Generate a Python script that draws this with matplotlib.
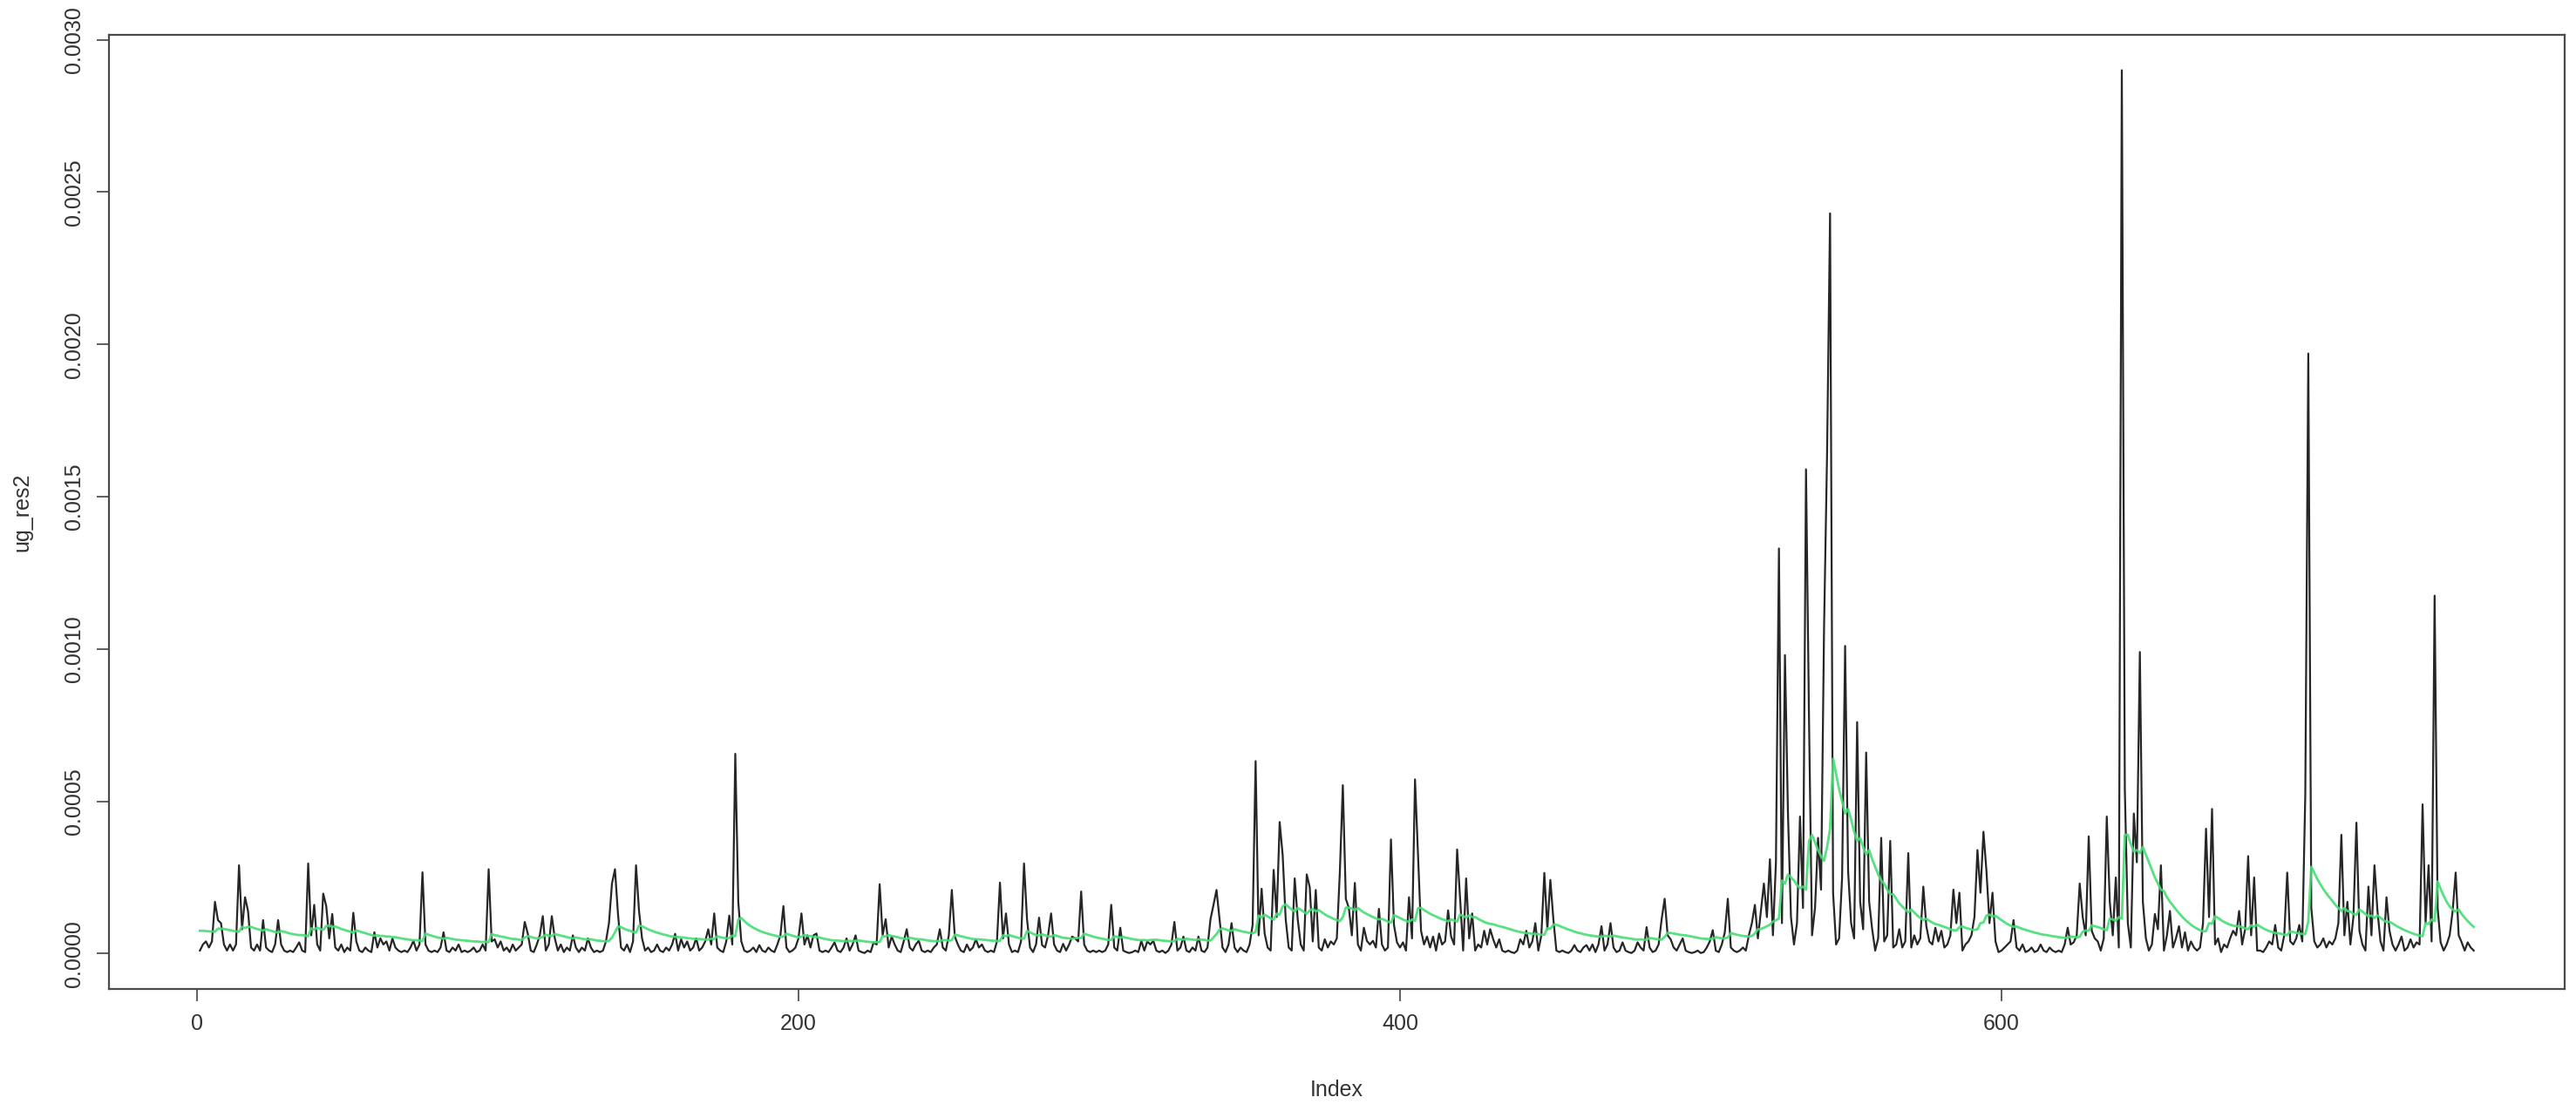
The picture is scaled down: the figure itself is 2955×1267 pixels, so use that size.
import numpy as np
import matplotlib
matplotlib.use('Agg')
import matplotlib.pyplot as plt

# squared residuals, in units of 1e-4, index 1..757
res2_e4 = [
    0.1,0.3,0.4,0.2,0.4,1.7,1.1,1.0,0.3,0.1,
    0.3,0.1,0.3,2.9,0.8,1.85,1.4,0.2,0.1,0.3,
    0.1,1.1,0.2,0.1,0.05,0.3,1.1,0.3,0.1,0.05,
    0.1,0.05,0.2,0.37,0.1,0.05,2.96,0.6,1.6,0.3,
    0.1,1.97,1.56,0.5,1.3,0.2,0.1,0.3,0.05,0.2,
    0.1,1.34,0.4,0.1,0.05,0.2,0.1,0.05,0.7,0.2,
    0.5,0.3,0.4,0.1,0.5,0.2,0.1,0.05,0.1,0.05,
    0.2,0.42,0.1,0.3,2.67,0.3,0.1,0.05,0.1,0.05,
    0.2,0.7,0.1,0.05,0.2,0.1,0.3,0.05,0.1,0.05,
    0.1,0.2,0.05,0.1,0.3,0.1,2.77,0.4,0.47,0.2,
    0.4,0.1,0.2,0.05,0.3,0.1,0.2,0.3,1.04,0.66,
    0.1,0.05,0.3,0.6,1.23,0.1,0.3,1.23,0.5,0.1,
    0.3,0.05,0.2,0.1,0.6,0.2,0.05,0.2,0.1,0.5,
    0.2,0.05,0.1,0.05,0.1,0.4,1.0,2.3,2.77,1.3,
    0.2,0.1,0.3,0.05,0.4,2.9,1.4,0.5,0.1,0.2,
    0.05,0.1,0.3,0.1,0.05,0.2,0.1,0.3,0.65,0.1,
    0.47,0.2,0.4,0.1,0.2,0.5,0.1,0.2,0.4,0.8,
    0.3,1.32,0.2,0.1,0.05,0.4,1.25,0.3,6.56,1.7,
    0.4,0.1,0.05,0.1,0.2,0.05,0.28,0.1,0.05,0.2,
    0.1,0.05,0.3,0.6,1.56,0.2,0.05,0.1,0.2,0.5,
    1.32,0.3,0.6,0.2,0.6,0.66,0.1,0.05,0.1,0.05,
    0.2,0.37,0.1,0.05,0.2,0.5,0.1,0.3,0.6,0.1,
    0.05,0.02,0.1,0.05,0.37,0.3,2.28,0.6,1.13,0.2,
    0.56,0.3,0.1,0.05,0.4,0.8,0.2,0.1,0.3,0.42,
    0.1,0.05,0.1,0.05,0.2,0.3,0.8,0.2,0.1,0.6,
    2.09,0.56,0.3,0.1,0.05,0.3,0.1,0.2,0.47,0.2,
    0.3,0.1,0.05,0.1,0.05,0.4,2.33,0.5,1.32,0.3,
    0.05,0.1,0.05,0.4,2.96,1.13,0.2,0.05,0.3,1.18,
    0.28,0.2,0.6,1.32,0.3,0.1,0.05,0.32,0.1,0.3,
    0.56,0.5,0.4,2.04,0.3,0.1,0.05,0.1,0.05,0.1,
    0.05,0.1,0.3,1.6,0.2,0.1,0.85,0.1,0.05,0.02,
    0.05,0.1,0.05,0.42,0.1,0.4,0.3,0.42,0.1,0.05,
    0.1,0.02,0.1,0.3,1.04,0.1,0.2,0.56,0.1,0.05,
    0.2,0.1,0.56,0.1,0.05,0.2,1.13,1.6,2.09,1.13,
    0.2,0.05,0.3,1.0,0.2,0.05,0.2,0.1,0.05,0.3,
    0.94,6.32,0.6,2.13,0.66,0.2,0.1,2.75,1.2,4.32,
    3.23,1.13,0.2,0.1,2.47,1.13,0.3,0.1,2.6,2.18,
    0.4,2.09,0.2,0.1,0.47,0.2,0.4,0.3,0.5,2.66,
    5.53,1.8,1.5,0.6,2.32,0.3,0.1,0.85,0.42,0.3,
    0.42,0.2,1.47,0.3,0.1,0.2,3.75,0.94,0.37,0.2,
    0.37,0.1,1.85,0.5,5.72,3.2,0.75,0.3,0.56,0.2,
    0.56,0.1,0.66,0.3,0.4,1.42,0.56,0.3,3.42,1.8,
    0.1,2.47,0.5,1.32,0.1,0.3,0.2,0.75,0.3,0.8,
    0.47,0.2,0.47,0.1,0.05,0.1,0.05,0.02,0.1,0.47,
    0.3,0.75,0.2,0.4,1.0,0.1,0.6,2.65,0.8,2.42,
    1.13,0.1,0.05,0.1,0.05,0.02,0.1,0.28,0.1,0.05,
    0.2,0.28,0.1,0.3,0.05,0.3,0.9,0.1,0.3,1.0,
    0.2,0.05,0.1,0.37,0.1,0.05,0.02,0.1,0.37,0.2,
    0.1,0.87,0.2,0.05,0.1,0.3,1.13,1.8,0.6,0.47,
    0.2,0.1,0.3,0.5,0.1,0.05,0.02,0.05,0.1,0.02,
    0.05,0.2,0.4,0.77,0.1,0.05,0.3,0.7,1.8,0.2,
    0.1,0.05,0.1,0.2,0.1,0.6,1.0,1.6,0.5,1.4,
    2.3,1.2,3.1,0.6,3.0,13.3,1.0,9.8,4.6,1.2,
    0.3,1.0,4.5,1.5,15.9,7.7,0.6,1.5,3.8,2.1,
    10.7,16.4,24.3,2.0,0.3,0.5,2.5,10.1,2.7,1.0,
    0.5,7.6,1.7,0.8,6.6,1.7,0.8,0.1,0.5,3.8,
    0.4,0.6,3.7,0.2,0.3,0.8,0.2,0.4,3.3,0.2,
    0.6,0.3,0.5,2.2,0.9,0.4,0.3,0.85,0.4,0.75,
    0.2,0.3,0.6,2.1,1.0,2.0,0.1,0.3,0.4,0.6,
    1.2,3.4,2.0,4.0,2.7,1.0,2.0,0.4,0.05,0.1,
    0.2,0.3,0.4,1.1,0.2,0.1,0.3,0.05,0.1,0.2,
    0.05,0.1,0.3,0.1,0.05,0.2,0.1,0.05,0.1,0.05,
    0.3,0.85,0.3,0.37,0.6,2.3,1.2,0.6,3.85,0.75,
    0.5,0.4,0.1,0.5,4.5,1.7,0.6,2.5,0.2,29.0,
    5.4,1.0,0.2,4.6,3.0,9.9,1.7,0.5,0.1,0.3,
    1.3,0.8,2.9,0.1,0.6,1.4,0.2,0.5,0.9,0.2,
    0.7,0.1,0.4,0.2,0.1,0.2,1.0,4.1,1.2,4.75,
    0.3,0.5,0.05,0.3,0.2,0.5,0.75,0.6,1.4,0.3,
    0.8,3.2,0.6,2.5,0.1,0.1,0.05,0.2,0.4,0.3,
    0.94,0.2,0.1,0.6,2.66,0.4,0.3,0.5,0.94,0.4,
    5.2,19.7,1.5,0.4,0.2,0.3,0.5,0.2,0.4,0.3,
    0.5,1.0,3.9,0.6,1.7,0.3,1.2,4.3,0.75,0.3,
    0.1,2.2,0.6,2.9,1.4,0.4,0.1,1.85,0.75,0.3,
    0.1,0.3,0.56,0.1,0.2,0.47,0.2,0.37,0.3,4.9,
    1.0,2.9,0.4,11.75,1.5,0.37,0.1,0.3,0.6,1.4,
    2.66,0.6,0.37,0.1,0.37,0.2,0.1,
]

# fitted conditional variance, in units of 1e-4
cvar_e4 = [
    .75,.75,.74,.73,.73,.72,.82,.82,.81,.79,
    .77,.75,.73,.72,.88,.84,.88,.88,.84,.81,
    .78,.76,.80,.77,.74,.71,.69,.74,.72,.69,
    .66,.64,.62,.61,.61,.59,.57,.83,.79,.85,
    .81,.78,.91,.92,.88,.89,.85,.81,.78,.75,
    .72,.69,.76,.73,.70,.67,.64,.61,.59,.60,
    .58,.58,.56,.56,.54,.54,.52,.50,.48,.47,
    .45,.44,.44,.43,.41,.66,.62,.59,.56,.53,
    .51,.49,.52,.50,.48,.46,.45,.44,.43,.42,
    .41,.40,.40,.39,.38,.39,.38,.64,.61,.59,
    .56,.55,.52,.50,.48,.48,.46,.45,.53,.57,
    .55,.52,.50,.51,.55,.62,.59,.58,.64,.62,
    .59,.57,.54,.52,.50,.53,.51,.49,.47,.47,
    .47,.45,.43,.42,.41,.40,.42,.52,.70,.89,
    .87,.82,.78,.75,.71,.69,.92,.90,.85,.80,
    .76,.72,.69,.66,.63,.61,.58,.56,.55,.55,
    .53,.53,.51,.50,.49,.48,.48,.47,.46,.46,
    .49,.48,.57,.54,.52,.50,.51,.59,.57,1.12,
    1.17,1.07,.98,.91,.85,.80,.75,.71,.68,.65,
    .62,.60,.57,.55,.56,.66,.62,.59,.56,.54,
    .55,.62,.58,.58,.55,.55,.53,.50,.48,.46,
    .44,.43,.43,.42,.41,.41,.42,.41,.42,.43,
    .42,.40,.39,.38,.37,.38,.38,.58,.56,.61,
    .58,.56,.54,.51,.49,.48,.52,.50,.48,.47,
    .47,.45,.43,.42,.41,.41,.41,.45,.44,.43,
    .44,.62,.60,.57,.55,.52,.50,.48,.47,.47,
    .46,.45,.44,.43,.42,.41,.42,.60,.57,.61,
    .58,.55,.52,.50,.49,.74,.70,.65,.61,.59,
    .64,.60,.57,.56,.61,.58,.55,.52,.51,.50,
    .49,.51,.52,.51,.66,.62,.59,.56,.53,.51,
    .49,.47,.45,.45,.57,.55,.52,.55,.52,.50,
    .48,.46,.45,.44,.45,.43,.45,.45,.46,.44,
    .43,.42,.41,.40,.41,.49,.47,.46,.49,.47,
    .46,.45,.47,.46,.45,.43,.43,.53,.64,.79,
    .83,.80,.76,.75,.80,.77,.74,.72,.70,.68,
    .67,.71,1.25,1.18,1.28,1.22,1.16,1.11,1.31,1.28,
    1.55,1.62,1.53,1.45,1.38,1.50,1.44,1.37,1.31,1.42,
    1.47,1.39,1.43,1.36,1.29,1.23,1.19,1.14,1.10,1.07,
    1.20,1.51,1.51,1.48,1.42,1.50,1.42,1.35,1.30,1.25,
    1.20,1.16,1.12,1.14,1.10,1.05,1.01,1.26,1.22,1.17,
    1.12,1.08,1.04,1.12,1.08,1.49,1.50,1.43,1.37,1.31,
    1.26,1.22,1.17,1.13,1.10,1.06,1.12,1.09,1.05,1.28,
    1.24,1.18,1.26,1.20,1.20,1.14,1.09,1.04,1.00,.98,
    .96,.93,.90,.88,.85,.82,.79,.76,.73,.71,
    .69,.67,.67,.65,.64,.64,.62,.62,.83,.82,
    .95,.95,.91,.87,.83,.79,.76,.72,.69,.67,
    .64,.62,.60,.59,.57,.56,.55,.59,.57,.56,
    .59,.57,.55,.53,.52,.50,.49,.47,.46,.47,
    .46,.45,.51,.50,.48,.47,.46,.55,.68,.68,
    .66,.64,.62,.61,.60,.58,.56,.54,.52,.50,
    .49,.48,.48,.49,.54,.52,.50,.50,.53,.67,
    .65,.62,.60,.58,.57,.56,.58,.66,.80,.81,
    .85,.90,.95,1.05,1.10,1.15,2.40,2.30,2.60,2.50,
    2.40,2.25,2.15,2.20,2.10,3.70,3.90,3.65,3.40,3.20,
    3.05,3.50,4.10,6.40,5.90,5.40,5.00,4.60,4.75,4.40,
    4.00,3.70,3.80,3.50,3.25,3.40,3.10,2.85,2.60,2.40,
    2.30,2.10,1.95,1.95,1.80,1.65,1.55,1.45,1.35,1.45,
    1.35,1.25,1.17,1.10,1.15,1.08,1.02,.97,.95,.91,
    .88,.84,.80,.77,.76,.87,.89,.85,.82,.79,
    .78,.80,1.00,1.02,1.25,1.28,1.22,1.24,1.17,1.10,
    1.03,.97,.92,.88,.89,.85,.81,.78,.75,.72,
    .69,.67,.64,.62,.61,.59,.57,.56,.54,.53,
    .52,.52,.56,.55,.54,.55,.72,.76,.75,.93,
    .90,.87,.84,.80,.77,1.15,1.12,1.08,1.20,1.15,
    3.90,3.90,3.60,3.35,3.40,3.30,3.50,3.25,3.00,2.75,
    2.50,2.30,2.10,2.05,1.85,1.70,1.58,1.45,1.33,1.22,
    1.12,1.03,.95,.88,.82,.77,.73,.74,1.00,.98,
    1.23,1.17,1.10,1.04,.99,.95,.92,.90,.90,.87,
    .83,.80,.93,.88,.95,.89,.83,.78,.74,.71,
    .68,.67,.65,.62,.61,.73,.71,.68,.66,.65,
    .64,1.05,2.85,2.65,2.45,2.28,2.12,1.98,1.85,1.73,
    1.60,1.50,1.40,1.50,1.40,1.38,1.30,1.28,1.45,1.38,
    1.30,1.22,1.25,1.17,1.25,1.18,1.10,1.03,1.05,.99,
    .93,.87,.82,.77,.73,.69,.65,.62,.59,.57,
    1.00,.97,1.12,1.07,2.37,2.12,1.90,1.70,1.55,1.45,
    1.38,1.45,1.30,1.18,1.07,.97,.88,
]

y_ticks = [0.0, 0.0005, 0.0010, 0.0015, 0.0020, 0.0025, 0.0030]
y_tick_labels = ['0.0000', '0.0005', '0.0010', '0.0015', '0.0020', '0.0025', '0.0030']
x_ticks = [0, 200, 400, 600]

plt.rcParams['font.family'] = ['Liberation Sans', 'DejaVu Sans']

res2 = np.array(res2_e4) * 1e-4
cvar = np.array(cvar_e4) * 1e-4
idx = np.arange(1, len(res2) + 1)
idx_c = np.arange(1, len(cvar) + 1)

fig = plt.figure(figsize=(29.55, 12.67), dpi=100)
ax = fig.add_axes([0.0423, 0.1042, 0.9533, 0.8642])

ax.plot(idx, res2, color='#262626', lw=1.6)
ax.plot(idx_c, cvar, color='#45de74', lw=2.0, alpha=0.9)

# R style axis ranges (4% padding)
n = len(res2)
ax.set_xlim(1 - 0.04 * (n - 1), n + 0.04 * (n - 1))
r = res2.max()
ax.set_ylim(-0.04 * r, r * 1.04)

ax.set_xticks(x_ticks)
ax.set_xticklabels([str(t) for t in x_ticks])
ax.set_yticks(y_ticks)
ax.set_yticklabels(y_tick_labels, rotation=90, va='center')

ax.tick_params(axis='both', direction='out', length=10, width=1.2,
               color='#444444', labelcolor='#333333', labelsize=18, pad=10)

for s in ax.spines.values():
    s.set_color('#4a4a4a')
    s.set_linewidth(1.6)

ax.set_xlabel('Index', fontsize=18, color='#333333')
ax.xaxis.set_label_coords(0.5, -0.095)
ax.set_ylabel('ug_res2', fontsize=18, color='#333333')
ax.yaxis.set_label_coords(-0.031, 0.5)

fig.savefig('out.png', dpi=100)
